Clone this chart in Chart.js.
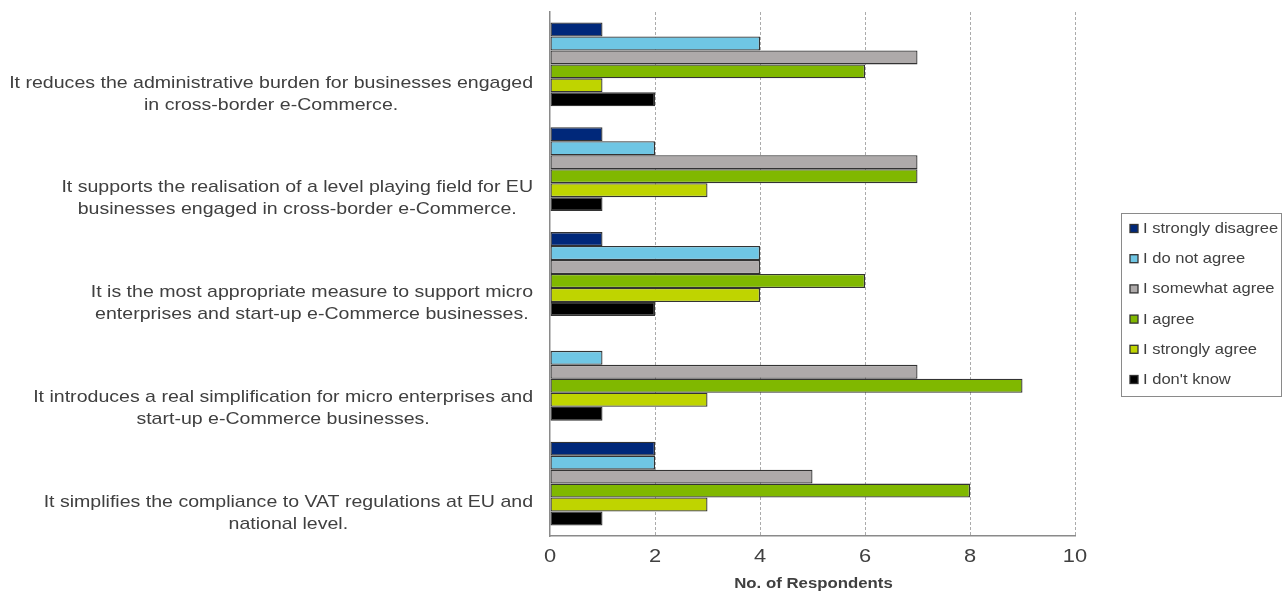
<!DOCTYPE html>
<html>
<head>
<meta charset="utf-8">
<script src="https://cdn.jsdelivr.net/npm/chart.js@4/dist/chart.umd.min.js"></script>
<style>
  html, body { margin: 0; padding: 0; background: #fff; }
  canvas { display: block; }
</style>
</head>
<body>
<canvas id="myChart" width="1283" height="595"></canvas>
<script>
// statements (each one is two lines of text)
const statements = [
  ["It reduces the administrative burden for businesses engaged", "in cross-border e-Commerce."],
  ["It supports the realisation of a level playing field for EU", "businesses engaged in cross-border e-Commerce."],
  ["It is the most appropriate measure to support micro", "enterprises and start-up e-Commerce businesses."],
  ["It introduces a real simplification for micro enterprises and", "start-up e-Commerce businesses."],
  ["It simplifies the compliance to VAT regulations at EU and", "national level."]
];

const answers = ["I strongly disagree", "I do not agree", "I somewhat agree", "I agree", "I strongly agree", "I don't know"];
const colors = ["#00287a", "#6fc6e4", "#aeaaaa", "#80b800", "#bfd400", "#000000"];

// respondents per answer, one value per statement
const stronglyDisagree = [1, 1, 1, 0, 2];
const doNotAgree = [4, 2, 4, 1, 2];
const somewhatAgree = [7, 7, 4, 7, 5];
const agree = [6, 7, 6, 9, 8];
const stronglyAgree = [1, 3, 4, 3, 3];
const dontKnow = [2, 1, 2, 1, 1];

const xTicks = [0, 2, 4, 6, 8, 10];
const xTitle = "No. of Respondents";

const seriesValues = [stronglyDisagree, doNotAgree, somewhatAgree, agree, stronglyAgree, dontKnow];
const textColor = "#404040";
const fontFamily = "'Liberation Sans', Arial, sans-serif";
const stretch = 1.15; // text is a little wider than the plain font

// draw text stretched horizontally around its anchor
function wideText(ctx, text, x, y, align) {
  ctx.save();
  ctx.translate(x, y);
  ctx.scale(stretch, 1);
  ctx.textAlign = align;
  ctx.fillText(text, 0, 0);
  ctx.restore();
}

// statement text: lines centred inside a right-aligned block
const statementLabels = {
  id: "statementLabels",
  afterDraw(chart) {
    const ctx = chart.ctx;
    const yScale = chart.scales.y;
    ctx.save();
    ctx.font = "17px " + fontFamily;
    ctx.fillStyle = textColor;
    ctx.textBaseline = "middle";
    statements.forEach((lines, i) => {
      const yc = yScale.getPixelForValue(i) + 29.5;
      const blockW = Math.max(...lines.map(l => ctx.measureText(l).width)) * stretch;
      const cx = 533 - blockW / 2;
      lines.forEach((line, k) => {
        wideText(ctx, line, cx, yc - 11 + k * 22, "center");
      });
    });
    ctx.restore();
  }
};

// x tick numbers and axis title
const axisText = {
  id: "axisText",
  afterDraw(chart) {
    const ctx = chart.ctx;
    const xScale = chart.scales.x;
    ctx.save();
    ctx.fillStyle = textColor;
    ctx.textBaseline = "middle";
    ctx.font = "19px " + fontFamily;
    xScale.ticks.forEach(t => {
      wideText(ctx, String(t.value), xScale.getPixelForValue(t.value), 557, "center");
    });
    ctx.font = "bold 14.6px " + fontFamily;
    wideText(ctx, xTitle, (xScale.left + xScale.right) / 2 + 1, 584, "center");
    ctx.restore();
  }
};

// boxed legend on the right
const boxLegend = {
  id: "boxLegend",
  afterDraw(chart) {
    const ctx = chart.ctx;
    ctx.save();
    ctx.strokeStyle = "#8a8a8a";
    ctx.lineWidth = 1;
    ctx.strokeRect(1121.5, 213.5, 160, 183);
    ctx.font = "14.4px " + fontFamily;
    ctx.textBaseline = "middle";
    chart.data.datasets.forEach((ds, i) => {
      const y = 229 + i * 30.2;
      ctx.fillStyle = ds.backgroundColor;
      ctx.fillRect(1130, y - 4.5, 8, 8);
      ctx.strokeStyle = "#333";
      ctx.lineWidth = 1.3;
      ctx.strokeRect(1130, y - 4.5, 8, 8);
      ctx.fillStyle = textColor;
      wideText(ctx, ds.label, 1143, y, "left");
    });
    ctx.restore();
  }
};

const chart = new Chart(document.getElementById("myChart").getContext("2d"), {
  type: "bar",
  data: {
    labels: statements.map(s => s.join(" ")),
    datasets: answers.map((name, i) => ({
      label: name,
      data: seriesValues[i],
      backgroundColor: colors[i],
      borderColor: "#333333",
      borderWidth: 1.3,
      borderSkipped: false,
      categoryPercentage: 0.8,
      barPercentage: 1
    }))
  },
  options: {
    indexAxis: "y",
    responsive: false,
    animation: false,
    layout: { padding: { top: 12, right: 208, left: 0, bottom: 0 } },
    plugins: {
      legend: { display: false },
      tooltip: { enabled: false }
    },
    scales: {
      x: {
        min: 0,
        max: 10,
        afterBuildTicks: axis => { axis.ticks = xTicks.map(v => ({ value: v })); },
        afterFit: axis => { axis.height = 59; },
        grid: {
          color: ctx => ctx.tick && ctx.tick.value === 0 ? "rgba(0,0,0,0)" : "#ababab",
          lineWidth: 1,
          drawTicks: false
        },
        border: { display: true, color: "#8a8a8a", width: 1.5, dash: [3, 2] },
        ticks: { display: false }
      },
      y: {
        afterFit: axis => { axis.width = 550; },
        grid: { display: false },
        border: { display: true, color: "#8a8a8a", width: 1.5 },
        ticks: { display: false }
      }
    }
  },
  plugins: [statementLabels, axisText, boxLegend]
});
</script>
</body>
</html>
